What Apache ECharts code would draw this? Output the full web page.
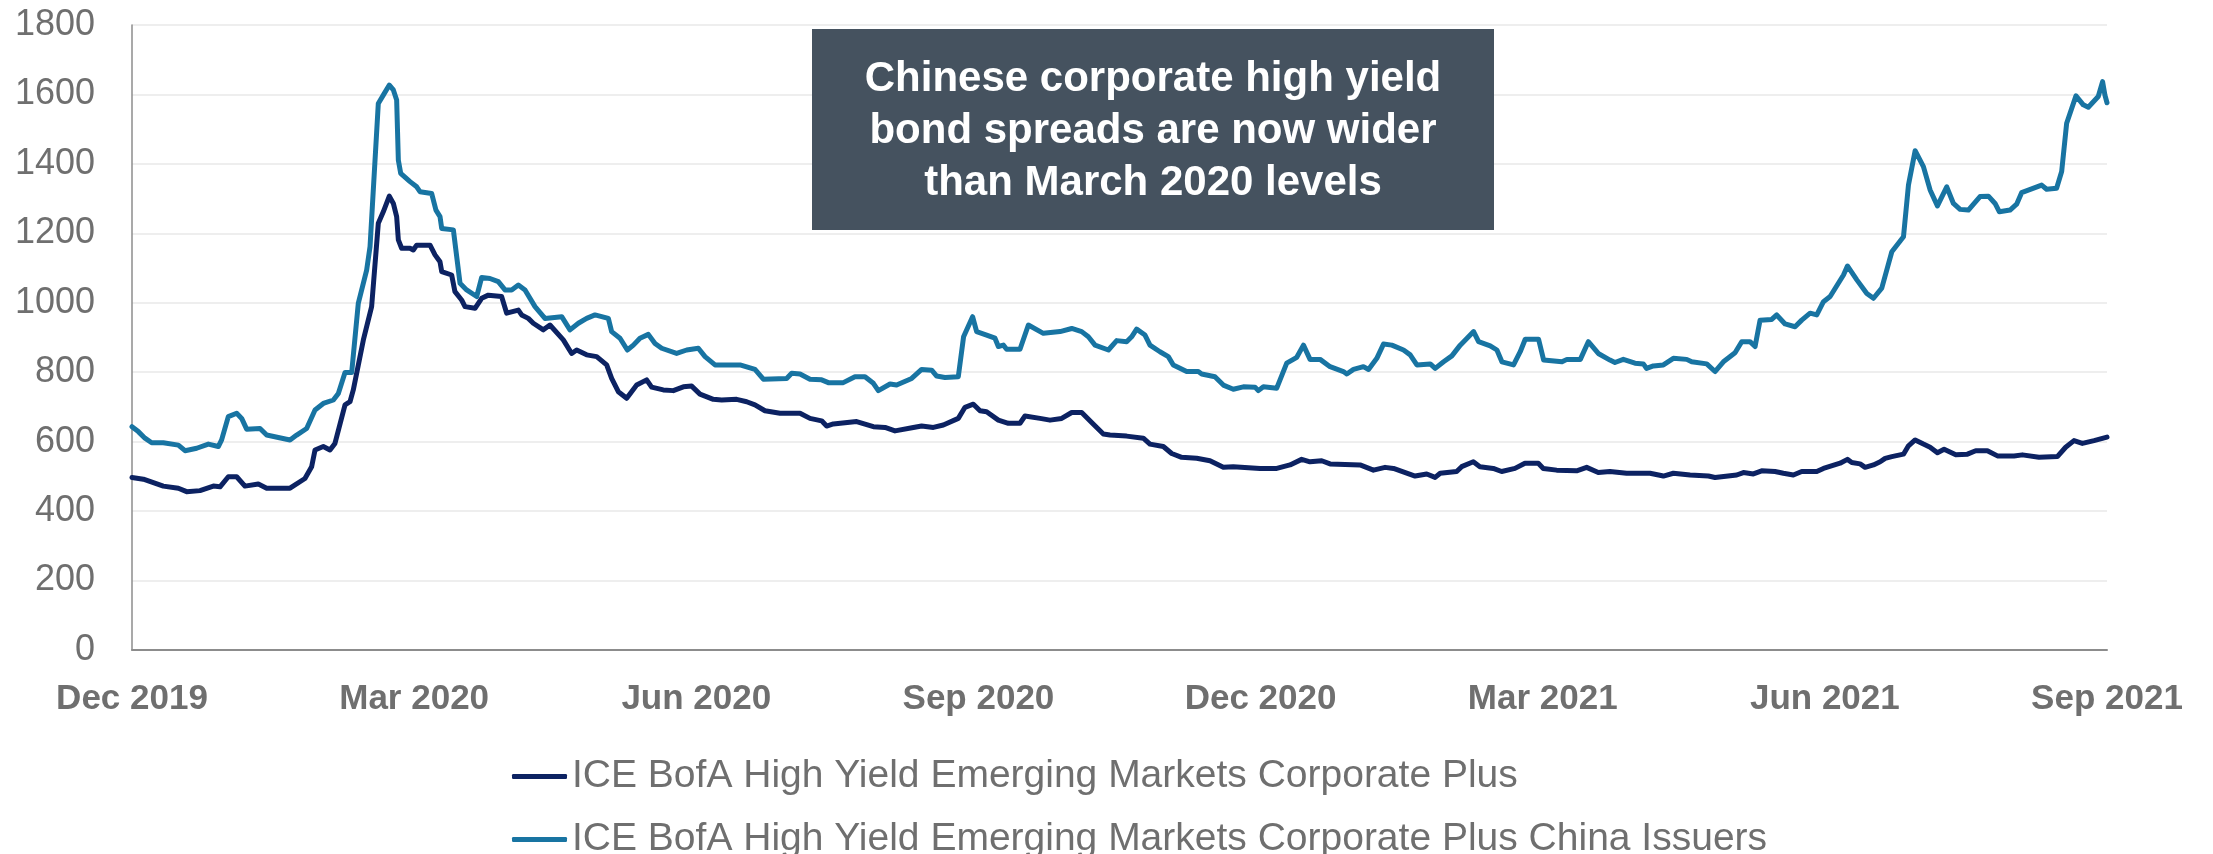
<!DOCTYPE html>
<html>
<head>
<meta charset="utf-8">
<title>High yield spreads</title>
<script src="https://cdn.jsdelivr.net/npm/echarts@6/dist/echarts.min.js"></script>
<style>
  html, body { margin: 0; padding: 0; background: #ffffff; }
  #chart { width: 2213px; height: 854px; }
</style>
</head>
<body>
<div id="chart"></div>
<script>
// x positions are months elapsed since the start of Dec 2019
const tickLabels = ['Dec 2019', 'Mar 2020', 'Jun 2020', 'Sep 2020', 'Dec 2020', 'Mar 2021', 'Jun 2021', 'Sep 2021'];

const seriesNames = [
  'ICE BofA High Yield Emerging Markets Corporate Plus',
  'ICE BofA High Yield Emerging Markets Corporate Plus China Issuers'
];

// ICE BofA HY EM Corporate Plus (spread, bp)
const emMonths = [
  0.000, 0.121, 0.227, 0.333, 0.493, 0.581, 0.723, 0.865, 0.936, 1.024, 1.113, 1.201, 1.343, 1.432, 1.680, 1.839,
  1.910, 1.946, 2.034, 2.105, 2.158, 2.265, 2.318, 2.353, 2.460, 2.548, 2.619, 2.672, 2.736, 2.779, 2.814, 2.832,
  2.867, 2.956, 2.991, 3.027, 3.169, 3.222, 3.275, 3.293, 3.399, 3.434, 3.505, 3.541, 3.647, 3.718, 3.789, 3.930,
  3.984, 4.108, 4.143, 4.214, 4.267, 4.374, 4.444, 4.586, 4.675, 4.728, 4.834, 4.941, 5.047, 5.100, 5.171, 5.260,
  5.366, 5.472, 5.525, 5.649, 5.756, 5.862, 5.951, 6.039, 6.181, 6.270, 6.429, 6.536, 6.624, 6.730, 6.890, 7.103,
  7.209, 7.333, 7.386, 7.457, 7.705, 7.883, 8.007, 8.113, 8.308, 8.396, 8.521, 8.627, 8.786, 8.857, 8.946, 9.017,
  9.087, 9.212, 9.318, 9.442, 9.495, 9.655, 9.761, 9.885, 9.992, 10.098, 10.204, 10.328, 10.399, 10.576, 10.753, 10.824,
  10.966, 11.055, 11.161, 11.321, 11.462, 11.604, 11.710, 11.994, 12.172, 12.313, 12.437, 12.526, 12.650, 12.739, 13.058, 13.200,
  13.324, 13.413, 13.643, 13.767, 13.856, 13.910, 14.085, 14.138, 14.262, 14.332, 14.474, 14.563, 14.705, 14.811, 14.953, 15.006,
  15.148, 15.361, 15.467, 15.591, 15.715, 15.892, 16.141, 16.283, 16.389, 16.567, 16.762, 16.832, 17.063, 17.134, 17.240, 17.328,
  17.470, 17.559, 17.665, 17.754, 17.914, 17.985, 18.162, 18.240, 18.286, 18.375, 18.428, 18.517, 18.588, 18.641, 18.712, 18.836,
  18.889, 18.960, 19.048, 19.119, 19.197, 19.268, 19.392, 19.516, 19.604, 19.728, 19.835, 20.012, 20.100, 20.277, 20.472, 20.560,
  20.649, 20.738, 20.862, 21.000
];
const emSpread = [
  497, 492, 482, 472, 466, 456, 459, 472, 470, 499, 499, 472, 478, 466, 466, 494,
  528, 576, 586, 576, 595, 706, 715, 749, 893, 989, 1229, 1262, 1307, 1286, 1248, 1181,
  1157, 1157, 1152, 1166, 1166, 1138, 1118, 1090, 1080, 1032, 1008, 989, 984, 1013, 1022, 1018,
  970, 979, 965, 955, 941, 922, 936, 893, 854, 864, 850, 845, 821, 782, 744, 725,
  763, 778, 757, 749, 747, 758, 760, 737, 722, 720, 722, 715, 706, 689, 682, 682,
  667, 660, 645, 651, 658, 643, 641, 631, 641, 645, 641, 648, 667, 699, 708, 689,
  686, 662, 653, 653, 674, 667, 662, 667, 684, 684, 655, 622, 619, 616, 610, 593,
  586, 566, 555, 552, 545, 526, 528, 523, 523, 533, 549, 542, 545, 536, 533, 518,
  526, 523, 501, 507, 497, 509, 514, 528, 542, 528, 523, 514, 523, 538, 538, 523,
  518, 516, 526, 511, 514, 509, 509, 501, 509, 504, 501, 497, 504, 511, 507, 516,
  514, 509, 504, 514, 514, 523, 538, 549, 540, 536, 526, 533, 542, 552, 557, 564,
  588, 605, 593, 584, 568, 578, 562, 564, 574, 574, 559, 559, 562, 555, 557, 584,
  603, 595, 603, 613
];

// ICE BofA HY EM Corporate Plus China Issuers (spread, bp)
const chinaMonths = [
  0.000, 0.067, 0.138, 0.209, 0.333, 0.493, 0.564, 0.688, 0.812, 0.918, 0.953, 1.024, 1.113, 1.166, 1.219, 1.361,
  1.432, 1.680, 1.751, 1.857, 1.946, 2.034, 2.141, 2.194, 2.265, 2.336, 2.406, 2.495, 2.531, 2.619, 2.672, 2.736,
  2.779, 2.814, 2.832, 2.857, 2.956, 3.027, 3.062, 3.186, 3.232, 3.275, 3.293, 3.417, 3.488, 3.558, 3.665, 3.718,
  3.806, 3.895, 3.966, 4.037, 4.108, 4.179, 4.285, 4.391, 4.569, 4.657, 4.746, 4.834, 4.923, 5.065, 5.100, 5.189,
  5.267, 5.331, 5.401, 5.490, 5.561, 5.632, 5.791, 5.898, 6.022, 6.093, 6.199, 6.465, 6.624, 6.713, 6.961, 7.014,
  7.103, 7.209, 7.333, 7.404, 7.563, 7.687, 7.794, 7.883, 7.936, 8.060, 8.130, 8.290, 8.396, 8.503, 8.556, 8.644,
  8.786, 8.842, 8.938, 8.981, 9.087, 9.176, 9.212, 9.265, 9.300, 9.442, 9.531, 9.690, 9.868, 9.992, 10.098, 10.169,
  10.240, 10.382, 10.470, 10.576, 10.629, 10.682, 10.771, 10.824, 10.930, 11.019, 11.072, 11.214, 11.338, 11.374, 11.515, 11.604,
  11.710, 11.817, 11.941, 11.976, 12.030, 12.172, 12.278, 12.385, 12.456, 12.526, 12.633, 12.739, 12.881, 12.917, 12.988, 13.094,
  13.148, 13.236, 13.307, 13.396, 13.520, 13.591, 13.662, 13.804, 13.857, 13.946, 14.034, 14.123, 14.265, 14.318, 14.442, 14.513,
  14.566, 14.690, 14.761, 14.814, 14.956, 15.010, 15.205, 15.258, 15.400, 15.485, 15.591, 15.715, 15.768, 15.857, 15.981, 16.070,
  16.105, 16.176, 16.283, 16.389, 16.531, 16.584, 16.744, 16.832, 16.921, 17.045, 17.116, 17.204, 17.258, 17.311, 17.435, 17.488,
  17.577, 17.683, 17.754, 17.843, 17.914, 17.985, 18.056, 18.198, 18.240, 18.340, 18.446, 18.517, 18.605, 18.658, 18.712, 18.836,
  18.889, 18.960, 19.048, 19.119, 19.197, 19.296, 19.367, 19.438, 19.526, 19.650, 19.739, 19.810, 19.856, 19.969, 20.039, 20.092,
  20.305, 20.358, 20.464, 20.518, 20.571, 20.670, 20.748, 20.801, 20.907, 20.925, 20.953, 20.978, 21.000
];
const chinaSpread = [
  643, 629, 610, 597, 597, 590, 574, 581, 593, 586, 605, 672, 682, 667, 636, 638,
  619, 605, 619, 638, 691, 710, 720, 739, 799, 799, 998, 1094, 1162, 1574, 1598, 1627,
  1613, 1584, 1411, 1373, 1349, 1334, 1320, 1315, 1267, 1248, 1214, 1210, 1056, 1037, 1018, 1073,
  1070, 1061, 1037, 1037, 1051, 1037, 989, 955, 960, 922, 941, 955, 965, 955, 917, 898,
  864, 878, 898, 909, 883, 869, 854, 864, 869, 845, 821, 821, 808, 780, 782, 797,
  795, 780, 778, 770, 770, 787, 787, 768, 747, 766, 763, 782, 808, 806, 789, 785,
  787, 902, 960, 917, 907, 898, 874, 878, 866, 866, 936, 912, 917, 926, 917, 902,
  878, 864, 891, 888, 902, 924, 907, 878, 859, 845, 821, 802, 802, 795, 787, 763,
  751, 758, 757, 747, 758, 754, 826, 843, 878, 837, 837, 816, 802, 795, 808, 816,
  808, 840, 881, 878, 864, 850, 821, 824, 811, 830, 847, 878, 917, 888, 876, 864,
  830, 821, 859, 895, 895, 835, 830, 837, 837, 888, 854, 835, 828, 837, 826, 824,
  811, 818, 821, 840, 837, 830, 824, 802, 830, 856, 888, 888, 874, 950, 952, 965,
  939, 931, 950, 970, 965, 1003, 1018, 1080, 1106, 1066, 1027, 1013, 1042, 1094, 1147, 1190,
  1339, 1438, 1392, 1325, 1279, 1334, 1286, 1269, 1267, 1306, 1307, 1286, 1262, 1267, 1284, 1317,
  1339, 1327, 1330, 1378, 1517, 1596, 1570, 1563, 1594, 1596, 1637, 1598, 1576
];

const calloutLines = [
  'Chinese corporate high yield',
  'bond spreads are now wider',
  'than March 2020 levels'
];

const toPairs = (xs, ys) => xs.map((x, i) => [x, ys[i]]);

const FONT = '"Liberation Sans", Arial, Helvetica, sans-serif';
const GREY = '#6f6f6f';
const COLORS = ['#0c2262', '#1874a2'];

// one legend block per row, stacked under the plot
const legendRow = (name, top) => ({
  orient: 'horizontal',
  left: 507,
  top: top,
  icon: 'roundRect',
  itemWidth: 55,
  itemHeight: 5,
  textStyle: { fontFamily: FONT, fontSize: 39, color: GREY },
  data: [name]
});

const chart = echarts.init(document.getElementById('chart'), null, { renderer: 'canvas' });

chart.setOption({
  animation: false,
  backgroundColor: '#ffffff',
  grid: { left: 132, right: 106, top: 25, bottom: 204, containLabel: false },
  xAxis: {
    type: 'value',
    min: 0,
    max: 21,
    interval: 3,
    axisLine: { show: true, lineStyle: { color: '#8c8c8c', width: 2 } },
    axisTick: { show: false },
    splitLine: { show: false },
    axisLabel: {
      margin: 32,
      fontFamily: FONT,
      fontSize: 35,
      fontWeight: 'bold',
      color: GREY,
      showMinLabel: true,
      showMaxLabel: true,
      formatter: v => tickLabels[Math.round(v / 3)]
    }
  },
  yAxis: {
    type: 'value',
    min: 0,
    max: 1800,
    interval: 200,
    axisLine: { show: true, lineStyle: { color: '#8c8c8c', width: 1.5 } },
    axisTick: { show: false },
    splitLine: { show: true, lineStyle: { color: '#eeeeee', width: 2 } },
    axisLabel: {
      margin: 37,
      fontFamily: FONT,
      fontSize: 36,
      color: GREY,
      formatter: v => String(v)
    }
  },
  legend: [
    legendRow(seriesNames[0], 752),
    legendRow(seriesNames[1], 815)
  ],
  series: [
    {
      name: seriesNames[0],
      type: 'line',
      data: toPairs(emMonths, emSpread),
      showSymbol: false,
      lineStyle: { color: COLORS[0], width: 5, join: 'round', cap: 'round' },
      itemStyle: { color: COLORS[0] },
      z: 3
    },
    {
      name: seriesNames[1],
      type: 'line',
      data: toPairs(chinaMonths, chinaSpread),
      showSymbol: false,
      lineStyle: { color: COLORS[1], width: 5, join: 'round', cap: 'round' },
      itemStyle: { color: COLORS[1] },
      z: 4
    }
  ],
  graphic: [
    {
      type: 'rect',
      zlevel: 1,
      z: 100,
      shape: { x: 812, y: 29, width: 682, height: 201 },
      style: { fill: '#45525f' }
    },
    {
      type: 'text',
      zlevel: 1,
      z: 101,
      x: 1153,
      y: 131,
      style: {
        text: calloutLines.join('\n'),
        fill: '#ffffff',
        font: 'bold 42px ' + FONT,
        lineHeight: 52,
        align: 'center',
        verticalAlign: 'middle'
      }
    }
  ]
});
</script>
</body>
</html>
